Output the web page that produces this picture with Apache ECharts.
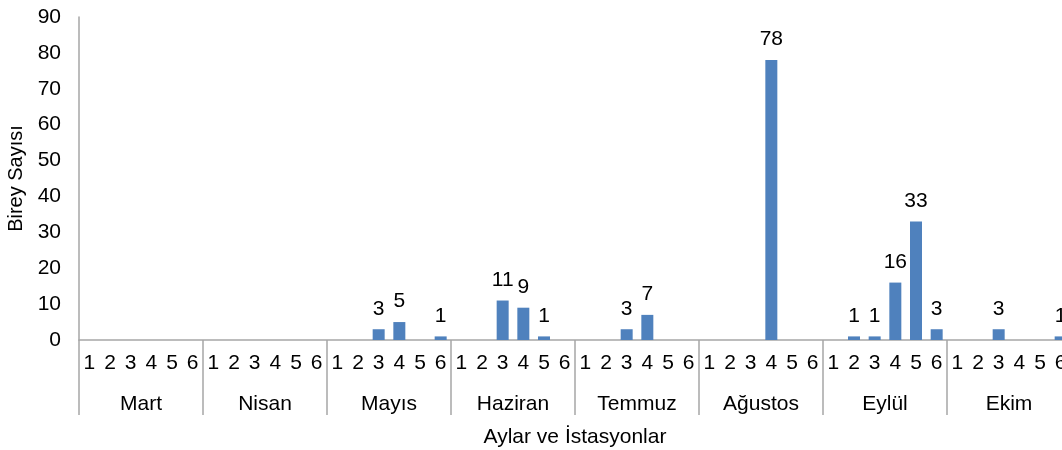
<!DOCTYPE html>
<html style="height: 100%">
<head>
    <meta charset="utf-8">
    <script src="https://cdn.jsdelivr.net/npm/echarts@6/dist/echarts.min.js"></script>
</head>
<body style="height: 100%; margin: 0; background: #fff; overflow: hidden">
<!-- the source chart runs a little past the right edge, so the canvas is wider than the window -->
<div id="container" style="width: 1072px; height: 450px"></div>
<script type="text/javascript">
    // aylar ve istasyonlar
    var months = ['Mart', 'Nisan', 'Mayıs', 'Haziran', 'Temmuz', 'Ağustos', 'Eylül', 'Ekim'];
    var stations = ['1', '2', '3', '4', '5', '6'];

    // birey sayilari (her ay icin istasyon 1-6)
    var mart = [0, 0, 0, 0, 0, 0];
    var nisan = [0, 0, 0, 0, 0, 0];
    var mayis = [0, 0, 3, 5, 0, 1];
    var haziran = [0, 0, 11, 9, 1, 0];
    var temmuz = [0, 0, 3, 7, 0, 0];
    var agustos = [0, 0, 0, 78, 0, 0];
    var eylul = [0, 1, 1, 16, 33, 3];
    var ekim = [0, 0, 3, 0, 0, 1];

    var yTicks = [0, 90, 10]; // min, max, interval

    var monthValues = [mart, nisan, mayis, haziran, temmuz, agustos, eylul, ekim];
    var categories = [];
    var values = [];
    months.forEach(function (m, i) {
        stations.forEach(function (s, j) {
            categories.push(m + '|' + s);
            values.push(monthValues[i][j]);
        });
    });

    var font = 'Liberation Sans';
    var fs = 21;
    var axisGray = '#A6A6A6';

    var myChart = echarts.init(document.getElementById('container'));
    var option = {
        animation: false,
        textStyle: {fontFamily: font},
        grid: {left: 79, right: 1, top: 17, bottom: 110, outerBoundsMode: 'none', containLabel: false},
        xAxis: [
            {
                type: 'category',
                data: categories,
                axisLine: {lineStyle: {color: axisGray, width: 1.5}},
                axisTick: {
                    show: true,
                    length: 75,
                    interval: function (index) { return index % 6 === 0; },
                    lineStyle: {color: axisGray, width: 1.5}
                },
                axisLabel: {
                    interval: 0,
                    fontSize: fs,
                    color: '#000',
                    margin: 13,
                    formatter: function (v) { return v.split('|')[1]; }
                }
            },
            {
                type: 'category',
                data: months,
                position: 'bottom',
                offset: 40,
                axisLine: {show: false},
                axisTick: {show: false},
                axisLabel: {interval: 0, fontSize: fs, color: '#000', margin: 14},
                name: 'Aylar ve İstasyonlar',
                nameLocation: 'middle',
                nameGap: 47,
                nameTextStyle: {fontSize: fs, color: '#000'}
            }
        ],
        yAxis: {
            type: 'value',
            min: yTicks[0],
            max: yTicks[1],
            interval: yTicks[2],
            name: 'Birey Sayısı',
            nameLocation: 'middle',
            nameGap: 52,
            nameTextStyle: {fontSize: 20, color: '#000'},
            axisLine: {show: true, lineStyle: {color: axisGray, width: 1.5}},
            axisTick: {show: false},
            splitLine: {show: false},
            axisLabel: {fontSize: fs, color: '#000', margin: 18}
        },
        series: [
            {
                type: 'bar',
                data: values,
                barWidth: 12,
                itemStyle: {color: '#4F81BD'},
                label: {
                    show: true,
                    position: 'top',
                    distance: 10,
                    fontSize: fs,
                    color: '#000',
                    formatter: function (p) { return p.value > 0 ? p.value : ''; }
                }
            }
        ]
    };
    myChart.setOption(option);
</script>
</body>
</html>
